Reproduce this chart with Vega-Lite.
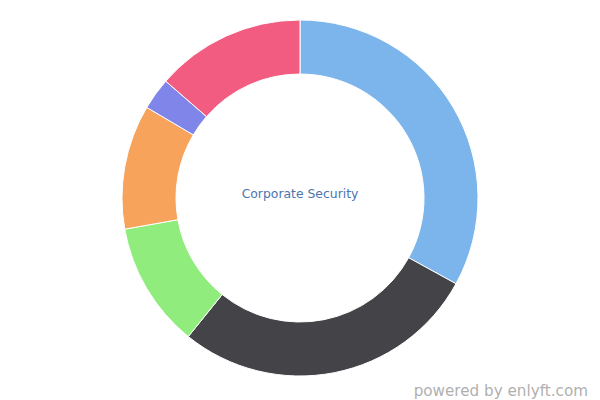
{
  "$schema": "https://vega.github.io/schema/vega-lite/v6.json",
  "width": 600,
  "height": 400,
  "autosize": {"type": "fit", "contains": "padding"},
  "padding": {"left": 0, "right": 0, "top": 0, "bottom": 0},
  "background": "white",
  "title": {
    "text": "powered by enlyft.com",
    "orient": "bottom",
    "anchor": "end",
    "frame": "group",
    "fontSize": 15.2,
    "font": "DejaVu Sans",
    "fontWeight": "normal",
    "color": "#b0b0b0",
    "offset": -12,
    "dx": -12
  },
  "data": {
    "values": [
      {"category": "A", "value": 33.0, "order": 1},
      {"category": "B", "value": 27.8, "order": 2},
      {"category": "C", "value": 11.4, "order": 3},
      {"category": "D", "value": 11.3, "order": 4},
      {"category": "E", "value": 2.9, "order": 5},
      {"category": "F", "value": 13.6, "order": 6}
    ]
  },
  "layer": [
    {
      "mark": {"type": "arc", "outerRadius": 178, "innerRadius": 124, "stroke": "white", "strokeWidth": 1},
      "encoding": {
        "theta": {"field": "value", "type": "quantitative", "stack": true},
        "order": {"field": "order", "type": "quantitative"},
        "color": {
          "field": "category",
          "type": "nominal",
          "scale": {
            "domain": ["A", "B", "C", "D", "E", "F"],
            "range": ["#7cb5ec", "#434348", "#90ed7d", "#f7a35c", "#8085e9", "#f15c80"]
          },
          "legend": null
        }
      }
    },
    {
      "data": {"values": [{"label": "Corporate Security"}]},
      "mark": {"type": "text", "font": "DejaVu Sans", "fontSize": 12.4, "color": "#4a75b0", "baseline": "middle", "align": "center", "dy": -4},
      "encoding": {"text": {"field": "label", "type": "nominal"}}
    }
  ],
  "config": {"view": {"stroke": null}}
}
